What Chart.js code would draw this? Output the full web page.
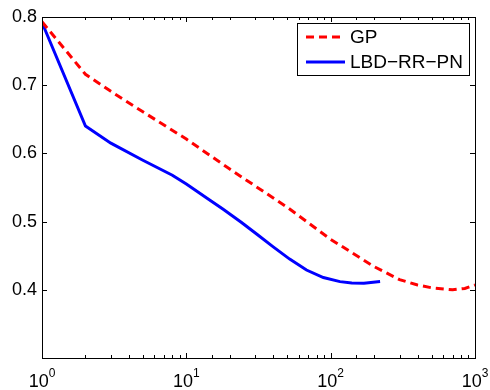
<!DOCTYPE html>
<html>
<head>
<meta charset="utf-8">
<script src="https://cdn.jsdelivr.net/npm/chart.js@4"></script>
<style>
    body { margin: 0; background: #fff; }
    #wrap { width: 490px; height: 390px; }
</style>
</head>
<body>
<div id="wrap"><canvas id="chart" width="490" height="390"></canvas></div>
<script>
// GP curve (red dashed)
var gpX = [1, 2, 3, 5, 10, 20, 50, 100, 200, 300, 400, 500, 700, 850, 1000];
var gpY = [0.793, 0.716, 0.691, 0.661, 0.621, 0.577, 0.521, 0.474, 0.434, 0.415, 0.407, 0.403, 0.400, 0.402, 0.407];

// LBD-RR-PN curve (blue solid)
var lbdX = [1, 2, 3, 5, 8, 10, 14, 18, 24, 31, 40, 52, 68, 89, 116, 140, 170, 220];
var lbdY = [0.792, 0.640, 0.615, 0.590, 0.568, 0.555, 0.534, 0.518, 0.499, 0.481, 0.463, 0.445, 0.429, 0.418, 0.412, 0.410, 0.4095, 0.412];

var seriesNames = ["GP", "LBD\u2212RR\u2212PN"];
var yTicks = [0.4, 0.5, 0.6, 0.7, 0.8];

var FONT = "Liberation Sans, Arial, sans-serif";

function toPoints(xs, ys) {
    var pts = [];
    for (var i = 0; i < xs.length; i++)
        pts.push({ x: xs[i], y: ys[i] });
    return pts;
}

/**
 * Draws the MATLAB-like frame: box, inward ticks, x labels with exponents and the legend
 */
var matlabFrame = {
    id: "matlabFrame",
    afterDraw(chart) {
        var ctx = chart.ctx;
        var area = chart.chartArea;
        var xs = chart.scales.x;
        var ys = chart.scales.y;
        ctx.save();

        // box
        ctx.strokeStyle = "#000";
        ctx.lineWidth = 1;
        ctx.strokeRect(Math.round(area.left) + 0.5, Math.round(area.top) + 0.5,
            Math.round(area.right - area.left), Math.round(area.bottom - area.top));

        // y ticks on both sides
        ctx.beginPath();
        for (var v of yTicks) {
            var py = Math.round(ys.getPixelForValue(v)) + 0.5;
            ctx.moveTo(area.left, py); ctx.lineTo(area.left + 5, py);
            ctx.moveTo(area.right, py); ctx.lineTo(area.right - 5, py);
        }
        // x ticks (major + minor) on top and bottom
        for (var t of xs.ticks) {
            var px = Math.round(xs.getPixelForValue(t.value)) + 0.5;
            var e = Math.log10(t.value);
            var len = Math.abs(e - Math.round(e)) < 1e-9 ? 5 : 3;
            ctx.moveTo(px, area.bottom); ctx.lineTo(px, area.bottom - len);
            ctx.moveTo(px, area.top); ctx.lineTo(px, area.top + len);
        }
        ctx.stroke();

        // x labels 10^n
        ctx.fillStyle = "#000";
        ctx.textBaseline = "alphabetic";
        ctx.textAlign = "left";
        for (var n = 0; n <= 3; n++) {
            var cx = xs.getPixelForValue(Math.pow(10, n));
            ctx.font = "18px " + FONT;
            var wBase = ctx.measureText("10").width;
            ctx.font = "12px " + FONT;
            var wExp = ctx.measureText(String(n)).width;
            var x0 = cx - (wBase + wExp) / 2;
            ctx.font = "18px " + FONT;
            ctx.fillText("10", x0, 387);
            ctx.font = "12px " + FONT;
            ctx.fillText(String(n), x0 + wBase, 377);
        }

        // legend
        var lx = 297, ly = 23, lw = 172, lh = 52;
        ctx.fillStyle = "#fff";
        ctx.fillRect(lx, ly, lw, lh);
        ctx.strokeStyle = "#000";
        ctx.lineWidth = 1;
        ctx.strokeRect(lx + 0.5, ly + 0.5, lw, lh);
        chart.data.datasets.forEach((ds, i) => {
            var yy = ly + 14 + i * 25;
            ctx.beginPath();
            ctx.strokeStyle = ds.borderColor;
            ctx.lineWidth = ds.borderWidth;
            ctx.setLineDash(ds.borderDash || []);
            ctx.moveTo(306, yy); ctx.lineTo(345, yy);
            ctx.stroke();
            ctx.setLineDash([]);
            ctx.fillStyle = "#000";
            ctx.font = "19px " + FONT;
            ctx.textBaseline = "middle";
            ctx.fillText(ds.label, 350, yy + 1);
        });
        ctx.restore();
    }
};

var myChart = new Chart(document.getElementById("chart"), {
    type: "line",
    data: {
        datasets: [{
            label: seriesNames[0],
            data: toPoints(gpX, gpY),
            borderColor: "#ff0000",
            borderWidth: 3,
            borderDash: [8, 5],
            pointRadius: 0,
            tension: 0,
            fill: false
        }, {
            label: seriesNames[1],
            data: toPoints(lbdX, lbdY),
            borderColor: "#0000ff",
            borderWidth: 3,
            pointRadius: 0,
            tension: 0,
            fill: false
        }]
    },
    options: {
        responsive: false,
        animation: false,
        layout: { padding: { top: 17, right: 15, left: 0, bottom: 0 } },
        plugins: {
            legend: { display: false },
            tooltip: { enabled: false }
        },
        scales: {
            x: {
                type: "logarithmic",
                min: 1,
                max: 1000,
                grid: { display: false, drawTicks: false },
                border: { display: false },
                ticks: { callback: () => "" },
                afterFit: scale => { scale.height = 32; }
            },
            y: {
                min: 0.3,
                max: 0.8,
                grid: { display: false, drawTicks: false },
                border: { display: false },
                ticks: {
                    stepSize: 0.1,
                    padding: 5,
                    color: "#000",
                    font: { family: FONT, size: 18 },
                    callback: v => (v < 0.35 ? "" : v.toFixed(1))
                },
                afterFit: scale => { scale.width = 42; }
            }
        }
    },
    plugins: [matlabFrame]
});
</script>
</body>
</html>
